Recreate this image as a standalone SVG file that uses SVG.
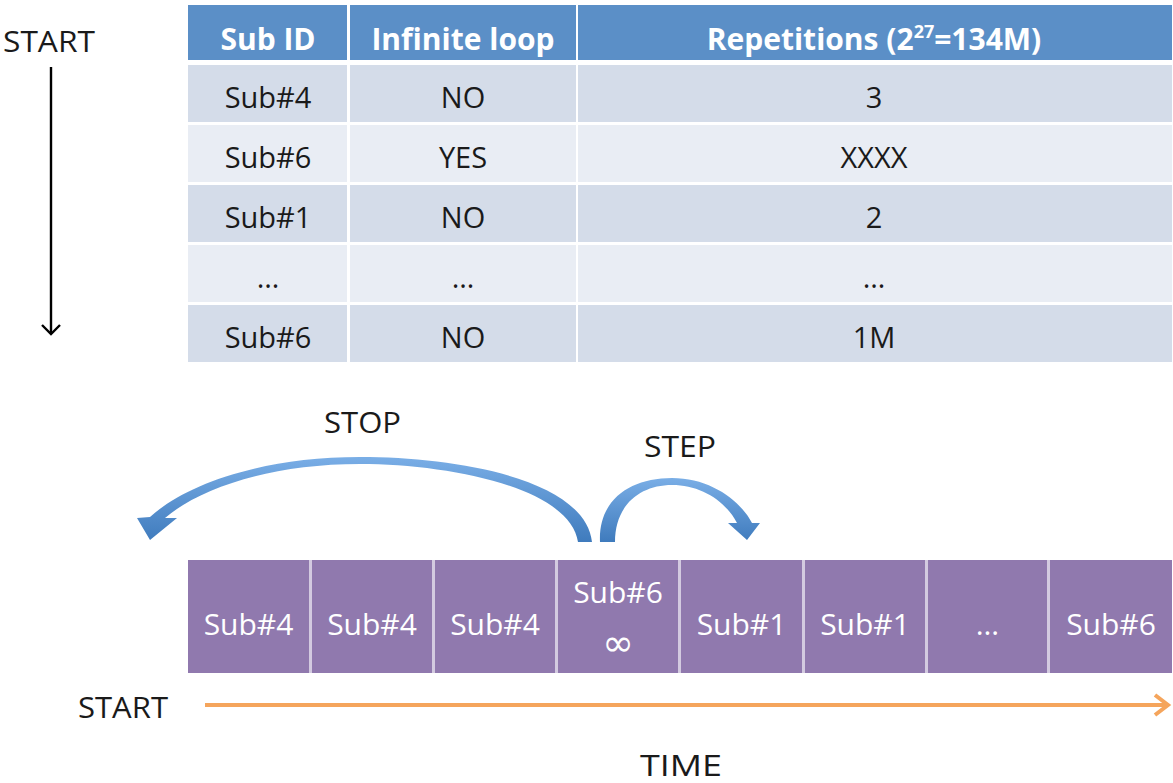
<svg xmlns="http://www.w3.org/2000/svg" width="1173" height="783" viewBox="0 0 1173 783">
<style>
text{font-family:"Open Sans","Liberation Sans",sans-serif;}
.hd{fill:#5b8fc7}
.rd{fill:#d4dce9}
.rl{fill:#e9edf4}
.ht{font-size:30px;font-weight:bold;fill:#ffffff;text-anchor:middle}
.bt{font-size:29px;fill:#1a1a1a;text-anchor:middle}
.lb{font-size:30px;fill:#1a1a1a}
.box{fill:#9079ae}
.bx{font-size:30px;fill:#ffffff;text-anchor:middle}
</style>
<defs>
<linearGradient id="blue" x1="0" y1="0" x2="0" y2="1">
<stop offset="0" stop-color="#7aaee6"/>
<stop offset="1" stop-color="#3f7bbd"/>
</linearGradient>
<marker id="blk" markerWidth="20" markerHeight="20" refX="10" refY="10" orient="auto" markerUnits="userSpaceOnUse">
<path d="M1,1 L10,10 L1,19" fill="none" stroke="#000" stroke-width="2.4"/>
</marker>
</defs>
<rect width="1173" height="783" fill="#ffffff"/>

<g id="table">
<rect class="hd" x="188" y="5" width="159" height="55"/>
<rect class="hd" x="350" y="5" width="226" height="55"/>
<rect class="hd" x="578" y="5" width="594" height="55"/>
<text class="ht" x="268" y="50">Sub ID</text>
<text class="ht" x="463" y="50">Infinite loop</text>
<text class="ht" x="874" y="50">Repetitions (2<tspan font-size="18" dy="-12">27</tspan><tspan dy="12">=134M)</tspan></text>

<rect class="rd" x="188" y="65" width="159" height="57"/>
<rect class="rd" x="350" y="65" width="226" height="57"/>
<rect class="rd" x="578" y="65" width="594" height="57"/>
<text class="bt" x="268" y="108">Sub#4</text>
<text class="bt" x="463" y="108">NO</text>
<text class="bt" x="874" y="108">3</text>

<rect class="rl" x="188" y="125" width="159" height="57"/>
<rect class="rl" x="350" y="125" width="226" height="57"/>
<rect class="rl" x="578" y="125" width="594" height="57"/>
<text class="bt" x="268" y="168">Sub#6</text>
<text class="bt" x="463" y="168">YES</text>
<text class="bt" x="874" y="168">XXXX</text>

<rect class="rd" x="188" y="185" width="159" height="57"/>
<rect class="rd" x="350" y="185" width="226" height="57"/>
<rect class="rd" x="578" y="185" width="594" height="57"/>
<text class="bt" x="268" y="228">Sub#1</text>
<text class="bt" x="463" y="228">NO</text>
<text class="bt" x="874" y="228">2</text>

<rect class="rl" x="188" y="245" width="159" height="57"/>
<rect class="rl" x="350" y="245" width="226" height="57"/>
<rect class="rl" x="578" y="245" width="594" height="57"/>
<text class="bt" x="268" y="288">…</text>
<text class="bt" x="463" y="288">…</text>
<text class="bt" x="874" y="288">…</text>

<rect class="rd" x="188" y="305" width="159" height="57"/>
<rect class="rd" x="350" y="305" width="226" height="57"/>
<rect class="rd" x="578" y="305" width="594" height="57"/>
<text class="bt" x="268" y="348">Sub#6</text>
<text class="bt" x="463" y="348">NO</text>
<text class="bt" x="874" y="348">1M</text>
</g>

<g id="labels">
<text class="lb" x="3" y="52" font-size="31" textLength="92" lengthAdjust="spacingAndGlyphs">START</text>
<text class="lb" x="324" y="433" textLength="77" lengthAdjust="spacingAndGlyphs">STOP</text>
<text class="lb" x="644" y="457" textLength="72" lengthAdjust="spacingAndGlyphs">STEP</text>
<text class="lb" x="78" y="718" textLength="90" lengthAdjust="spacingAndGlyphs">START</text>
<text class="lb" x="640" y="776" textLength="82" lengthAdjust="spacingAndGlyphs">TIME</text>
</g>

<g id="timeline">
<rect x="188" y="560" width="984" height="113" fill="#d3cae0"/>
<g id="b1"><rect class="box" x="188" y="560" width="121" height="113"/><text class="bx" x="248.5" y="635">Sub#4</text></g>
<g id="b2"><rect class="box" x="312" y="560" width="120" height="113"/><text class="bx" x="372" y="635">Sub#4</text></g>
<g id="b3"><rect class="box" x="435" y="560" width="120" height="113"/><text class="bx" x="495" y="635">Sub#4</text></g>
<g id="b4"><rect class="box" x="558" y="560" width="120" height="113"/><text class="bx" x="618" y="603">Sub#6</text><text class="bx" x="618" y="656" style="font-family:'DejaVu Sans',sans-serif;font-size:38px">∞</text></g>
<g id="b5"><rect class="box" x="681" y="560" width="121" height="113"/><text class="bx" x="741.5" y="635">Sub#1</text></g>
<g id="b6"><rect class="box" x="805" y="560" width="120" height="113"/><text class="bx" x="865" y="635">Sub#1</text></g>
<g id="b7"><rect class="box" x="928" y="560" width="119" height="113"/><text class="bx" x="987.5" y="635">…</text></g>
<g id="b8"><rect class="box" x="1050" y="560" width="122" height="113"/><text class="bx" x="1111" y="635">Sub#6</text></g>
</g>

<g id="connectors">
<line x1="51" y1="67" x2="51" y2="334" stroke="#000" stroke-width="2.4" marker-end="url(#blk)"/>
<path id="stop" fill="url(#blue)" d="M592,542 C585,480 460,457 360,457 C260,457 185,485 150,517 L137,518 L150,540 L177,518 L165,518 C200,488 270,464 360,464 C450,464 570,488 578,542 Z"/>
<path id="step" fill="url(#blue)" d="M600,542 C598,500 630,478 672,478 C710,478 740,500 752,523 L760,523 L747,540 L728,523 L737,523 C725,500 700,485 672,485 C640,485 615,505 615,542 Z"/>
<line x1="205" y1="705" x2="1166" y2="705" stroke="#f5a55c" stroke-width="4"/>
<path d="M1155,695 L1168,705 L1155,715" fill="none" stroke="#f5a55c" stroke-width="4"/>
</g>
</svg>
